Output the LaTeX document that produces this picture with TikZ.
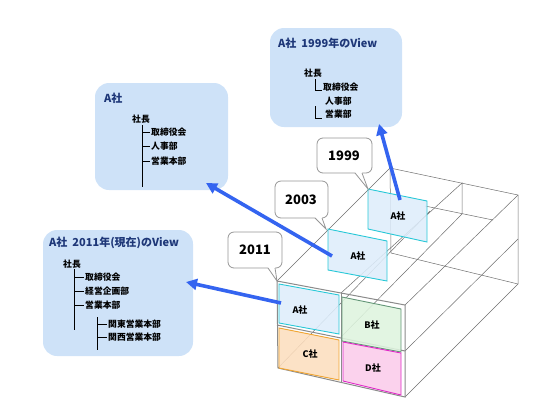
\documentclass[tikz,border=0pt]{standalone}
\usepackage{fontspec}
\setmainfont{Noto Sans CJK JP}
\usetikzlibrary{arrows.meta}
\definecolor{calloutblue}{RGB}{206,226,248}
\definecolor{titleblue}{RGB}{30,55,120}
\definecolor{arrowblue}{RGB}{52,100,240}
\definecolor{afill}{RGB}{222,237,251}
\definecolor{aedge}{RGB}{40,200,215}
\definecolor{bfill}{RGB}{222,244,222}
\definecolor{bedge}{RGB}{100,150,120}
\definecolor{cfill}{RGB}{252,222,190}
\definecolor{cedge}{RGB}{240,165,50}
\definecolor{dfill}{RGB}{250,204,234}
\definecolor{dedge}{RGB}{225,40,200}
\definecolor{wire}{RGB}{110,110,110}
\definecolor{bubblegray}{RGB}{150,150,150}
\begin{document}
\begin{tikzpicture}[x=1pt,y=-1pt,
  titletext/.style={anchor=west, inner sep=0pt, font=\fontsize{11}{13}\selectfont\bfseries, text=titleblue},
  treetext/.style={anchor=west, inner sep=0pt, font=\fontsize{8.8}{10}\selectfont\bfseries},
  yeartext/.style={inner sep=0pt, font=\fontsize{13}{15}\selectfont\bfseries},
  celltext/.style={inner sep=0pt, font=\fontsize{9}{11}\selectfont\bfseries},
  callout/.style={fill=calloutblue, rounded corners=14pt},
  bubble/.style={fill=white, draw=bubblegray, line width=0.8pt, rounded corners=6pt},
  treeline/.style={draw=black, line width=0.6pt},
  wireline/.style={draw=wire, line width=0.5pt},
  frontline/.style={draw=wire!80, line width=1pt},
  cellA/.style={fill=afill, fill opacity=0.88, draw=aedge, line width=0.9pt},
  cellB/.style={fill=bfill, fill opacity=0.88, draw=bedge, line width=0.9pt},
  cellC/.style={fill=cfill, fill opacity=0.88, draw=cedge, line width=0.9pt},
  cellD/.style={fill=dfill, fill opacity=0.88, draw=dedge, line width=0.9pt},
  bluearrow/.style={draw=arrowblue, line width=3.6pt, -{Triangle[length=11pt,width=11pt]}}]
\useasboundingbox (0,0) rectangle (540,405);

% ---- wireframe of the box ----
\coordinate (FTL) at (277,281);
\coordinate (FTR) at (405,305);
\coordinate (FBR) at (405,397);
\coordinate (FBL) at (278,368);
\coordinate (BTL) at (390,168);
\coordinate (BTR) at (518,195);
\coordinate (BBR) at (518,284);
\coordinate (BBL) at (391,253);
\draw[wireline] (FTL) -- (BTL) -- (BTR) -- (BBR) -- (FBR);
\draw[wireline] (FTR) -- (BTR);
\draw[wireline] (BTL) -- (BBL) -- (BBR);
\draw[wireline] (FBL) -- (430,211);
\draw[wireline] (341,293) -- (462,183) -- (462,214);
\draw[wireline] (341,337) -- (462,214);
\draw[wireline] (425,206) -- (493,220);
\draw[wireline] (405,351) -- (518,239);

% ---- time slices ----
\draw[cellA] (368,189) -- (427,201) -- (427,242) -- (368,229) -- cycle;
\node[celltext] (a1999) at (398,216) {A社};
\draw[cellA] (328,229) -- (387,241) -- (387,281) -- (328,270) -- cycle;
\node[celltext] (a2003) at (358,256) {A社};

% ---- front face ----
\draw[frontline] (FTL) -- (FTR) -- (FBR) -- (FBL) -- cycle;
\draw[frontline] (341,293) -- (341,382);
\draw[frontline] (277,325) -- (405,351);
\draw[cellA] (279,284) -- (339,295) -- (339,334) -- (279,323) -- cycle;
\draw[cellB] (342,297) -- (401,309) -- (401,352) -- (342,341) -- cycle;
\draw[cellC] (279,328) -- (339,340) -- (339,380) -- (279,368) -- cycle;
\draw[cellD] (343,342) -- (401,353) -- (401,395) -- (343,381) -- cycle;
\node[celltext] (a2011) at (300,310) {A社};
\node[celltext] (bco) at (372,325) {B社};
\node[celltext] (cco) at (310,354) {C社};
\node[celltext] (dco) at (373,368) {D社};

% ---- year bubbles ----
\draw[bubble] (317,138) rectangle (372,173);
\fill[white] (355,172) -- (368,189) -- (362,172) -- cycle;
\draw[draw=bubblegray, line width=0.8pt] (355,173) -- (368,189) -- (362,173);
\node[yeartext] (y1999) at (344,156) {1999};

\draw[bubble] (275,181) rectangle (328,218);
\fill[white] (315,217) -- (326,229) -- (322,217) -- cycle;
\draw[draw=bubblegray, line width=0.8pt] (315,218) -- (326,229) -- (322,218);
\node[yeartext] (y2003) at (301,200) {2003};

\draw[bubble] (228,232) rectangle (282,268);
\fill[white] (268,267) -- (277,281) -- (275,267) -- cycle;
\draw[draw=bubblegray, line width=0.8pt] (268,268) -- (277,281) -- (275,268);
\node[yeartext] (y2011) at (255,250) {2011};

% ---- callout 1999 ----
\path[callout] (270,28) rectangle (402,127);
\node[titletext] (t1999) at (278,43) {A社\ \ 1999年のView};
\node[treetext] (p1999) at (304,73) {社長};
\draw[treeline] (315,79) -- (315,90) -- (322,90);
\draw[treeline] (315,106) -- (315,118) -- (322,118);
\node[treetext] (r1999) at (323,87) {取締役会};
\node[treetext] (h1999) at (325,101) {人事部};
\node[treetext] (s1999) at (325,114) {営業部};

% ---- callout 2003 ----
\path[callout] (95,83) rectangle (228,190);
\node[titletext] (t2003) at (104,98) {A社};
\node[treetext] (p2003) at (132,119) {社長};
\draw[treeline] (142,125) -- (142,187);
\draw[treeline] (142,132) -- (150,132);
\draw[treeline] (142,146) -- (150,146);
\draw[treeline] (142,161) -- (150,161);
\node[treetext] (r2003) at (151,132) {取締役会};
\node[treetext] (h2003) at (151,146) {人事部};
\node[treetext] (s2003) at (151,161) {営業本部};

% ---- callout 2011 ----
\path[callout] (43,230) rectangle (193,356);
\node[titletext] (t2011) at (49,243) {A社\ \ 2011年(現在)のView};
\node[treetext] (p2011) at (63,264) {社長};
\draw[treeline] (74,269) -- (74,330);
\draw[treeline] (74,277) -- (84,277);
\draw[treeline] (74,291) -- (84,291);
\draw[treeline] (74,305) -- (84,305);
\node[treetext] (r2011) at (85,277) {取締役会};
\node[treetext] (k2011) at (85,291) {経営企画部};
\node[treetext] (s2011) at (85,305) {営業本部};
\draw[treeline] (97,317) -- (97,350);
\draw[treeline] (97,324) -- (107,324);
\draw[treeline] (97,337) -- (107,337);
\node[treetext] (e2011) at (108,324) {関東営業本部};
\node[treetext] (w2011) at (108,337) {関西営業本部};

% ---- arrows ----
\coordinate (s1) at (400,200);
\coordinate (e1) at (379,124);
\coordinate (s2) at (332,256);
\coordinate (e2) at (206,183);
\coordinate (s3) at (281,303);
\coordinate (e3) at (186,282);
\draw[bluearrow] (s1) -- (e1);
\draw[bluearrow] (s2) -- (e2);
\draw[bluearrow] (s3) -- (e3);
\end{tikzpicture}
\end{document}
